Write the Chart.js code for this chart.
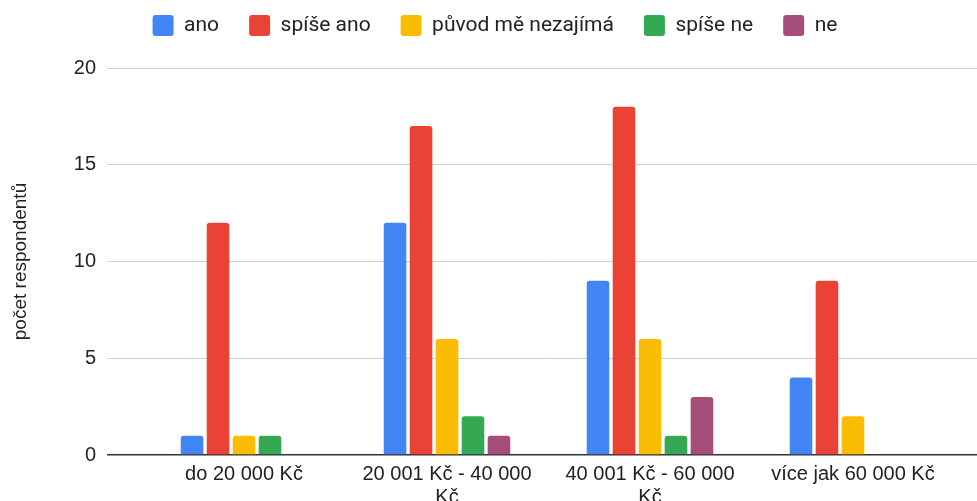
<!DOCTYPE html>
<html>
<head>
<meta charset="utf-8">
<script src="https://cdn.jsdelivr.net/npm/chart.js@4.4.0/dist/chart.umd.min.js"></script>
<style>
  html, body { margin: 0; padding: 0; background: #fff; overflow: hidden; }
  #graf { display: block; }
</style>
</head>
<body>
<canvas id="graf" width="1000" height="501"></canvas>
<script>
// data
const categories = ["do 20 000 Kč", "20 001 Kč - 40 000 Kč", "40 001 Kč - 60 000 Kč", "více jak 60 000 Kč"];
const ano = [1, 12, 9, 4];
const spiseAno = [12, 17, 18, 9];
const puvodNezajima = [1, 6, 6, 2];
const spiseNe = [1, 2, 1, 0];
const ne = [0, 1, 3, 0];
const yTicks = [0, 5, 10, 15, 20];

// break long labels into lines like the original
const wrap = (text, max) => {
  const lines = [];
  let line = "";
  text.split(" ").forEach((w) => {
    const next = line ? line + " " + w : w;
    if (next.length > max && line) {
      lines.push(line);
      line = w;
    } else {
      line = next;
    }
  });
  lines.push(line);
  return lines;
};
const tickLabels = categories.map((c) => wrap(c, 18));

const axisFont = { family: "'Liberation Sans', Arial, sans-serif", size: 20, lineHeight: 1.15 };

const legendSpacer = {
  id: "legendSpacer",
  beforeInit(chart) {
    const fit = chart.legend.fit;
    chart.legend.fit = function () {
      fit.bind(chart.legend)();
      this.height += 22;
    };
  },
};

const serie = (label, data, color) => ({
  label,
  data,
  backgroundColor: color,
  borderWidth: 0,
  borderRadius: 3,
  borderSkipped: "start",
  categoryPercentage: 0.64,
  barPercentage: 0.87,
});

new Chart(document.getElementById("graf"), {
  type: "bar",
  data: {
    labels: categories.map((c, i) => i),
    datasets: [
      serie("ano", ano, "#4285F4"),
      serie("spíše ano", spiseAno, "#EA4335"),
      serie("původ mě nezajímá", puvodNezajima, "#FBBC04"),
      serie("spíše ne", spiseNe, "#34A853"),
      serie("ne", ne, "#A64D79"),
    ],
  },
  plugins: [legendSpacer],
  options: {
    responsive: false,
    animation: false,
    layout: { padding: { top: -15, right: 10, left: 0, bottom: 0 } },
    plugins: {
      tooltip: { enabled: false },
      legend: {
        position: "top",
        labels: {
          boxWidth: 21,
          boxHeight: 21,
          useBorderRadius: true,
          borderRadius: 3,
          padding: 30,
          color: "#222",
          font: { family: "Roboto, sans-serif", size: 21 },
        },
      },
    },
    scales: {
      x: {
        type: "linear",
        min: -0.675,
        max: 3.675,
        offset: false,
        grid: { display: false, drawTicks: false, offset: false },
        border: { display: false },
        afterBuildTicks: (scale) => {
          scale.ticks = categories.map((c, i) => ({ value: i }));
        },
        afterFit: (scale) => {
          scale.height = 46;
        },
        ticks: {
          autoSkip: false,
          maxRotation: 0,
          padding: 8,
          color: "#222",
          font: axisFont,
          callback: (v) => tickLabels[v],
        },
      },
      y: {
        min: 0,
        max: 20,
        afterBuildTicks: (scale) => {
          scale.ticks = yTicks.map((v) => ({ value: v }));
        },
        afterFit: (scale) => {
          scale.width = 107;
        },
        grid: {
          drawTicks: false,
          color: (ctx) => (ctx.tick && ctx.tick.value === 0 ? "#333" : "#cfcfcf"),
          lineWidth: (ctx) => (ctx.tick && ctx.tick.value === 0 ? 1.5 : 1),
        },
        border: { display: false },
        ticks: {
          padding: 11,
          color: "#222",
          font: axisFont,
        },
        title: {
          display: true,
          text: "počet respondentů",
          color: "#222",
          padding: { top: 9, bottom: 0 },
          font: { family: "'Liberation Sans', Arial, sans-serif", size: 19 },
        },
      },
    },
  },
});
</script>
</body>
</html>
